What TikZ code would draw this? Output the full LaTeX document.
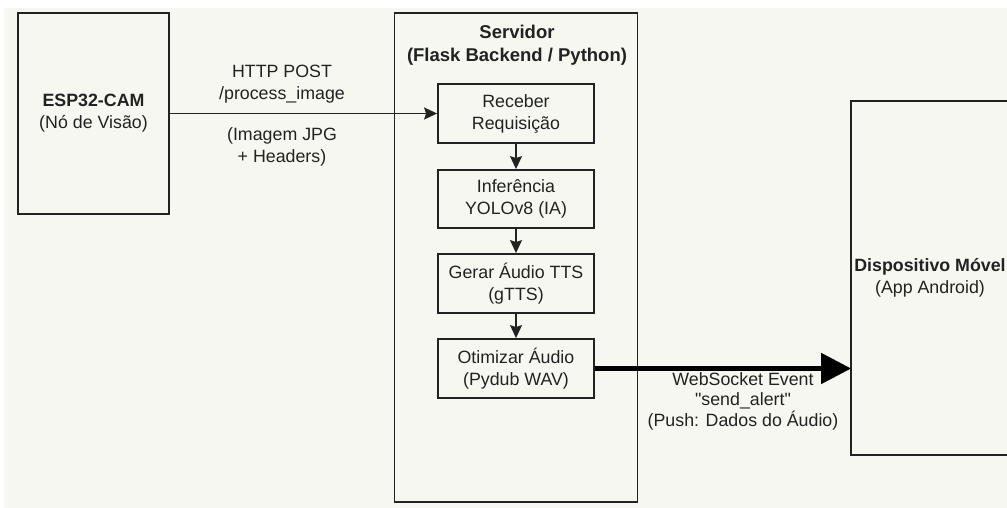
\documentclass[tikz,border=0pt]{standalone}
\usepackage{fontspec}
\setmainfont{Liberation Sans}
\newfontfamily\plainsans{Liberation Sans}
\usetikzlibrary{arrows.meta}
\definecolor{bg}{HTML}{F7F7F2}
\definecolor{ink}{HTML}{222222}
\tikzset{
  x=1pt,y=-1pt,
  txt/.style={font=\fontsize{17.8}{22}\selectfont, text=ink, align=center, inner sep=0pt},
  block/.style={draw=ink, line width=1.8pt, fill=bg, inner sep=0pt, txt},
  conn/.style={draw=ink, line width=1.8pt, -{Stealth[length=13pt,width=12pt,inset=2pt]}},
  bigconn/.style={draw=black, line width=5pt, -{Triangle[length=30pt,width=30pt]}, shorten >=-1pt},
}
\begin{document}
\begin{tikzpicture}
\useasboundingbox (0,0) rectangle (1007,508);
\fill[white] (0,0) rectangle (1007,508);
\fill[bg] (4,8) rectangle (1007,508);
% boxes
\node[block, minimum width=151pt, minimum height=201pt] (esp) at (93.5,113.5)
  {\textbf{ESP32-CAM}\\(Nó de Visão)};
\node[block, minimum width=243pt, minimum height=489pt] (srv) at (516,257.5) {};
\node[txt, font=\fontsize{18.5}{23}\bfseries\selectfont] (srvt) at (517,45)
  {Servidor\\(Flask Backend / Python)};
\node[block, minimum width=156pt, minimum height=59pt] (rec) at (516,113.5) {Receber\\Requisição};
\node[block, minimum width=156pt, minimum height=58pt] (inf) at (516,199) {Inferência\\YOLOv8 (IA)};
\node[block, minimum width=156pt, minimum height=59pt] (ger) at (516,283.5) {Gerar Áudio TTS\\(gTTS)};
\node[block, minimum width=156pt, minimum height=59pt] (oti) at (516,368.5) {Otimizar Áudio\\(Pydub WAV)};
\node[block, minimum width=158pt, minimum height=354pt] (disp) at (930,278)
  {\textbf{Dispositivo Móvel}\\(App Android)};
% connectors
\draw[conn] (esp.east) -- (rec.west);
\draw[conn] (rec.south) -- (inf.north);
\draw[conn] (inf.south) -- (ger.north);
\draw[conn] (ger.south) -- (oti.north);
\draw[bigconn] (oti.east) -- (disp.west |- oti.east);
% labels
\node[txt] (l1) at (282,84) {HTTP POST\\/process\_image};
\node[txt] (l2) at (282,147) {(Imagem JPG\\+ Headers)};
\node[txt, font=\plainsans\fontsize{17.8}{20.5}\selectfont] (l3) at (743,401) {WebSocket Event\\"send\_alert"\\(Push: Dados do Áudio)};
\end{tikzpicture}
\end{document}
